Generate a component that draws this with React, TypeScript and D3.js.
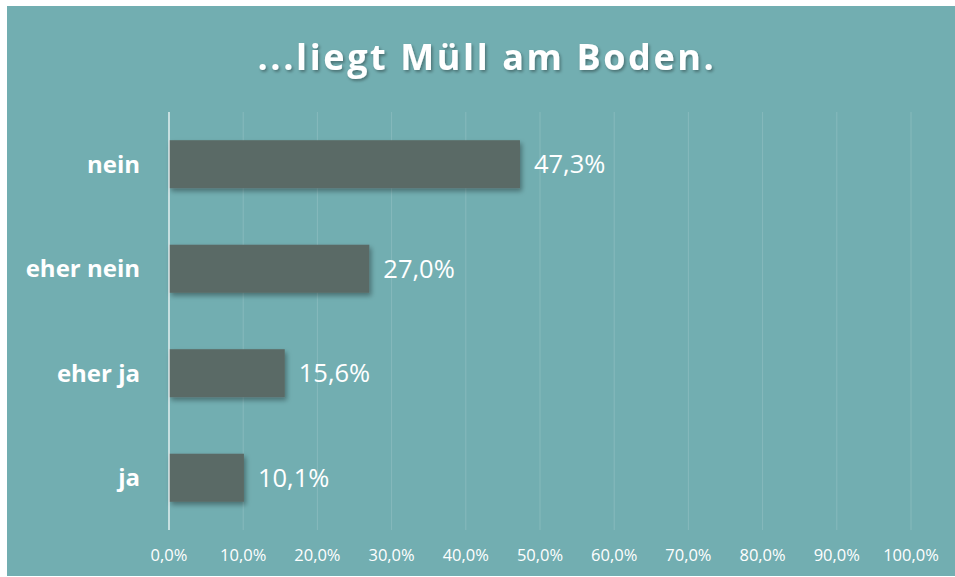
import React from "react";
import * as d3 from "d3";

const categories = ["nein", "eher nein", "eher ja", "ja"];
const values = [47.3, 27.0, 15.6, 10.1];
const valueLabels = ["47,3%", "27,0%", "15,6%", "10,1%"];
const ticks = [0, 10, 20, 30, 40, 50, 60, 70, 80, 90, 100];
const tickLabels = ["0,0%", "10,0%", "20,0%", "30,0%", "40,0%", "50,0%", "60,0%", "70,0%", "80,0%", "90,0%", "100,0%"];
const title = "...liegt Müll am Boden.";

const W = 955;
const H = 577;
const BG = "#72AEB1";
const BAR = "#5A6A66";
const FONT = "'Open Sans', 'Noto Sans', sans-serif";

export default function App() {
  const x = d3.scaleLinear().domain([0, 100]).range([169, 911]);
  const y = d3.scaleBand<string>().domain(categories).range([112, 530]).paddingInner(0.54).paddingOuter(0.27);

  return (
    <svg width={W} height={H} style={{ position: "absolute", left: 0, top: 0 }}>
      <defs>
        <filter id="sh" x="-10%" y="-30%" width="130%" height="180%">
          <feDropShadow dx="2" dy="3" stdDeviation="2.5" floodColor="#000" floodOpacity="0.35" />
        </filter>
        <filter id="tsh" x="-10%" y="-30%" width="130%" height="180%">
          <feDropShadow dx="1.5" dy="2" stdDeviation="1.5" floodColor="#000" floodOpacity="0.35" />
        </filter>
      </defs>
      <rect x={0} y={0} width={W} height={H} fill="#fff" />
      <rect x={7} y={6} width={W - 7} height={570} fill={BG} />
      <text
        x={487}
        y={70}
        textAnchor="middle"
        fill="#fff"
        fontFamily={FONT}
        fontWeight={700}
        fontSize={36}
        letterSpacing={2.6}
        filter="url(#tsh)"
      >
        {title}
      </text>
      {ticks.slice(1).map((t) => (
        <line key={t} x1={x(t)} x2={x(t)} y1={112} y2={530} stroke="#ffffff" strokeOpacity={0.15} strokeWidth={1} />
      ))}
      {categories.map((c, i) => (
        <rect
          key={c}
          x={x(0)}
          y={y(c)!}
          width={x(values[i]) - x(0)}
          height={y.bandwidth()}
          fill={BAR}
          filter="url(#sh)"
        />
      ))}
      <line x1={x(0)} x2={x(0)} y1={112} y2={530} stroke="#ffffff" strokeOpacity={0.6} strokeWidth={2} />
      {categories.map((c, i) => (
        <text
          key={c + "v"}
          x={x(values[i]) + 14}
          y={y(c)! + y.bandwidth() / 2}
          dy="0.36em"
          fill="#fff"
          fontFamily={FONT}
          fontSize={25.5}
        >
          {valueLabels[i]}
        </text>
      ))}
      {categories.map((c) => (
        <text
          key={c + "c"}
          x={140}
          y={y(c)! + y.bandwidth() / 2}
          dy="0.36em"
          textAnchor="end"
          fill="#fff"
          fontFamily={FONT}
          fontWeight={700}
          fontSize={24}
        >
          {c}
        </text>
      ))}
      {ticks.map((t, i) => (
        <text
          key={"t" + t}
          x={x(t)}
          y={555}
          dy="0.36em"
          textAnchor="middle"
          fill="#fff"
          fontFamily={FONT}
          fontSize={16.5}
        >
          {tickLabels[i]}
        </text>
      ))}
    </svg>
  );
}
